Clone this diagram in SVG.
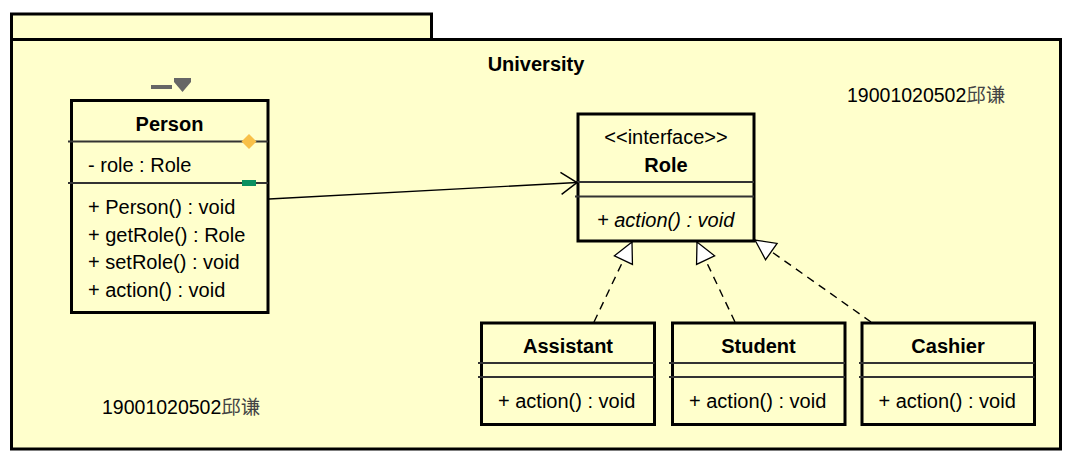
<svg xmlns="http://www.w3.org/2000/svg" width="1073" height="459" viewBox="0 0 1073 459">
<style>
.box{fill:#FFFFCC;stroke:#000;stroke-width:3}
.sep{stroke:#333;stroke-width:1.8;fill:none}
.t{font-family:"Liberation Sans",Arial,sans-serif;font-size:20px;fill:#000}
.b{font-weight:bold}
.c{text-anchor:middle}
.i{font-style:italic}
.lbl{font-family:"Liberation Sans",Arial,sans-serif;font-size:19.5px;fill:#000}
.cjk{font-family:"Noto Sans CJK SC",sans-serif;fill:#444}
.dash{stroke:#000;stroke-width:1.4;fill:none;stroke-dasharray:8 6}
.solid{stroke:#000;stroke-width:1.4;fill:none}
</style>
<defs>
<marker id="tri" markerUnits="userSpaceOnUse" markerWidth="26" markerHeight="26" viewBox="-23 -13 26 26" refX="0" refY="0" orient="auto" overflow="visible">
<path d="M0,0 L-20,-10 L-20,10 Z" fill="#fff" stroke="#000" stroke-width="1.3"/>
</marker>
<marker id="open" markerUnits="userSpaceOnUse" markerWidth="22" markerHeight="26" viewBox="-19 -13 22 26" refX="0" refY="0" orient="auto" overflow="visible">
<path d="M-16,-11 L0,0 L-16,11" fill="none" stroke="#000" stroke-width="1.5"/>
</marker>
</defs>
<rect width="1073" height="459" fill="#fff"/>
<g id="package">
<rect class="box" x="11.5" y="14" width="420" height="25.5"/>
<rect class="box" x="11.5" y="39.5" width="1049" height="409.5"/>
<text class="t b c" x="536" y="71">University</text>
</g>
<g id="person">
<rect class="box" x="71.5" y="100.5" width="196.5" height="212"/>
<line class="sep" x1="68" y1="141.5" x2="268" y2="141.5"/>
<line class="sep" x1="68" y1="183" x2="268" y2="183"/>
<text class="t b c" x="169.5" y="131">Person</text>
<text class="t" x="88" y="172">- role : Role</text>
<text class="t" x="88" y="214">+ Person() : void</text>
<text class="t" x="88" y="241.5">+ getRole() : Role</text>
<text class="t" x="88" y="269">+ setRole() : void</text>
<text class="t" x="88" y="296.5">+ action() : void</text>
<polygon points="249,134 256.5,141.5 249,149 241.5,141.5" fill="#F8C048"/>
<rect x="242" y="180" width="14" height="6" fill="#0A9060"/>
<rect x="151" y="85" width="21" height="4" fill="#666"/>
<polygon points="174,78 191,78 191,82 182.5,92 174,82" fill="#666"/>
</g>
<g id="role">
<rect class="box" x="578" y="114" width="176" height="127"/>
<line class="sep" x1="575" y1="182" x2="754" y2="182"/>
<line class="sep" x1="575" y1="196.5" x2="754" y2="196.5"/>
<text class="t c" x="666" y="144">&lt;&lt;interface&gt;&gt;</text>
<text class="t b c" x="666" y="172">Role</text>
<text class="t i" x="597" y="226.5">+ action() : void</text>
</g>
<g id="assistant">
<rect class="box" x="481.5" y="323" width="173" height="101.5"/>
<line class="sep" x1="478" y1="363" x2="654.5" y2="363"/>
<line class="sep" x1="478" y1="377" x2="654.5" y2="377"/>
<text class="t b c" x="568" y="353">Assistant</text>
<text class="t" x="498" y="408">+ action() : void</text>
</g>
<g id="student">
<rect class="box" x="672.5" y="323" width="172.5" height="101.5"/>
<line class="sep" x1="669" y1="363" x2="845" y2="363"/>
<line class="sep" x1="669" y1="377" x2="845" y2="377"/>
<text class="t b c" x="758.5" y="353">Student</text>
<text class="t" x="689" y="408">+ action() : void</text>
</g>
<g id="cashier">
<rect class="box" x="862" y="323" width="172.5" height="101.5"/>
<line class="sep" x1="859" y1="363" x2="1034.5" y2="363"/>
<line class="sep" x1="859" y1="377" x2="1034.5" y2="377"/>
<text class="t b c" x="948" y="353">Cashier</text>
<text class="t" x="878.5" y="408">+ action() : void</text>
</g>
<g id="labels">
<text class="lbl" x="847" y="102">19001020502<tspan class="cjk">邱谦</tspan></text>
<text class="lbl" x="102" y="414">19001020502<tspan class="cjk">邱谦</tspan></text>
</g>
<g id="connectors">
<line class="solid" x1="269" y1="199" x2="577" y2="182.5" marker-end="url(#open)"/>
<line class="dash" x1="594" y1="322" x2="632" y2="242" marker-end="url(#tri)"/>
<line class="dash" x1="735" y1="322" x2="697" y2="242" marker-end="url(#tri)"/>
<line class="dash" x1="871" y1="322" x2="755" y2="240" marker-end="url(#tri)"/>
</g>
</svg>
